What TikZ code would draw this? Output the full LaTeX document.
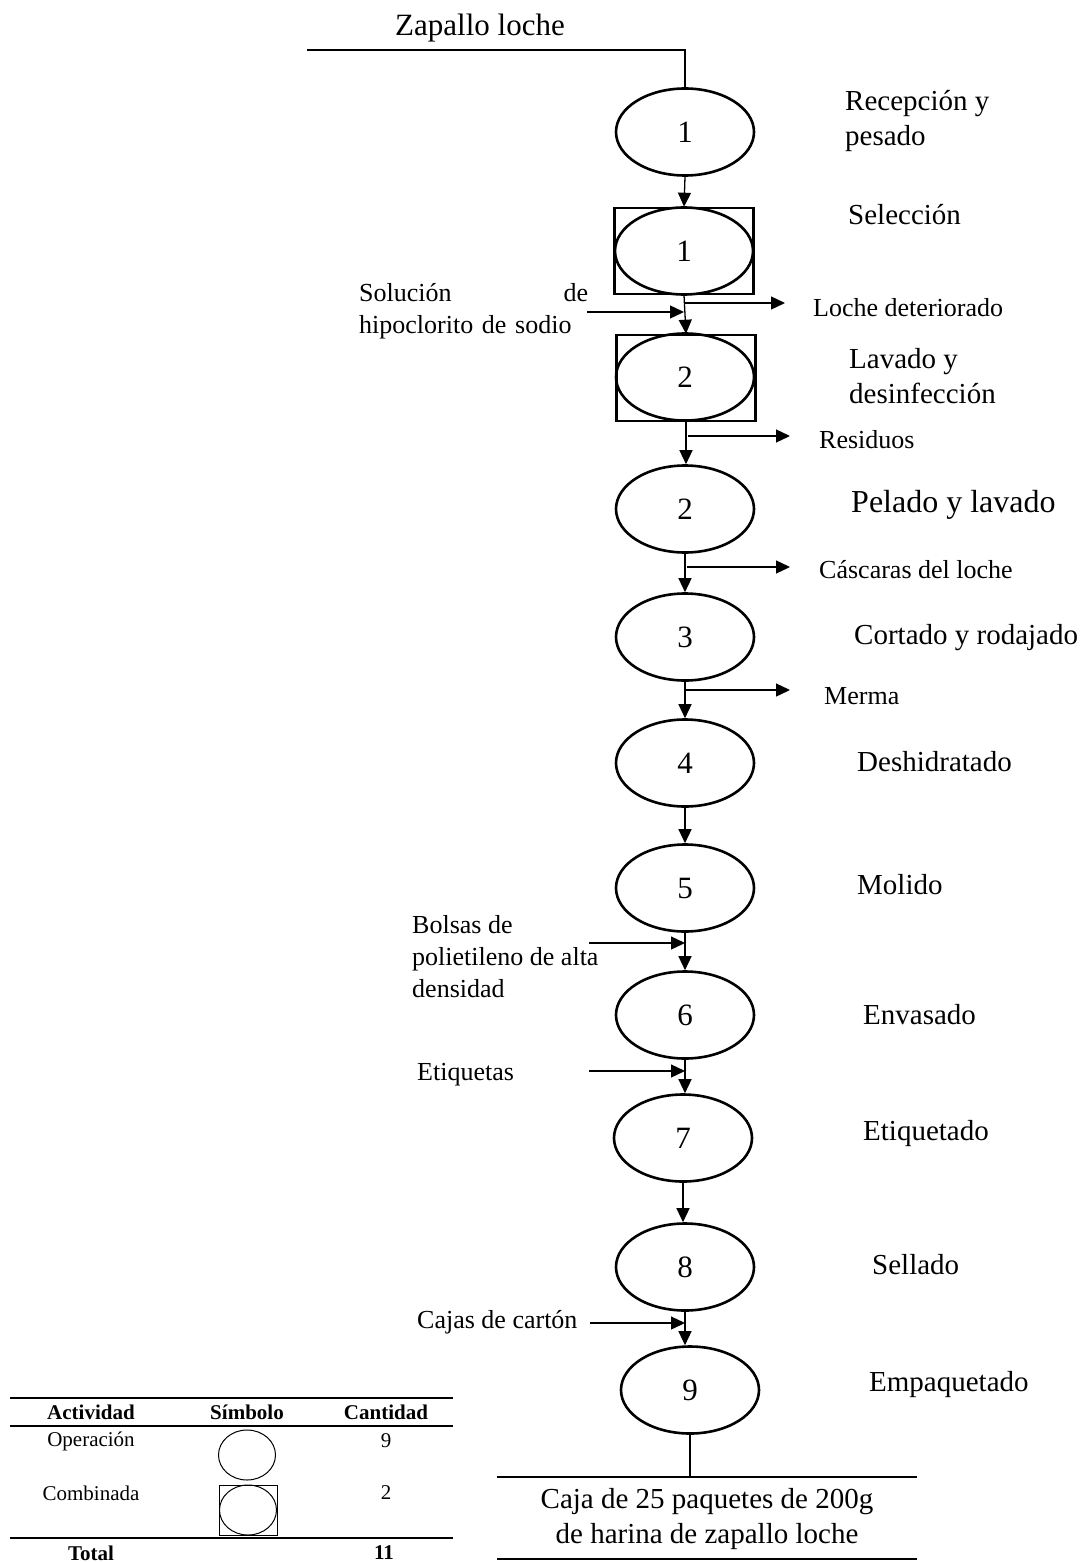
\documentclass[tikz,border=0pt]{standalone}
\usepackage{fontspec}
\setmainfont{Liberation Serif}
\usetikzlibrary{shapes.geometric,arrows.meta}
\begin{document}
\begin{tikzpicture}[x=1pt,y=-1pt,
  op/.style={draw,ellipse,line width=2.6pt,minimum width=138pt,minimum height=87pt,inner sep=0pt,font=\fontsize{31}{37}\selectfont},
  comb/.style={draw,rectangle,line width=2.6pt,minimum width=139pt,minimum height=86pt,inner sep=0pt},
  lbl/.style={anchor=west,align=left,inner sep=0pt,font=\fontsize{29}{35}\selectfont},
  sml/.style={anchor=west,align=left,inner sep=0pt,font=\fontsize{26}{32}\selectfont},
  flow/.style={-{Triangle[length=14pt,width=13pt]},line width=1.3pt},
  rule/.style={line width=1.6pt},
  tab/.style={font=\fontsize{21}{25}\selectfont,inner sep=0pt}]
\useasboundingbox (0,0) rectangle (1083,1562);
% raw material
\node[font=\fontsize{31}{37}\selectfont] (mp) at (480,28) {Zapallo loche};
\node[op] (e1) at (685,132) {1};
\draw[line width=1.3pt] (307,50) -| (e1.north);
% combined activities
\node[comb] (b1) at (684,251) {};
\node[op] (c1) at (684,251) {1};
\node[comb] (b2) at (686,378) {};
\node[op] (c2) at (685,377) {2};
% operations
\node[op] (e2) at (685,509) {2};
\node[op] (e3) at (685,637) {3};
\node[op] (e4) at (685,763) {4};
\node[op] (e5) at (685,888) {5};
\node[op] (e6) at (685,1015) {6};
\node[op] (e7) at (683,1138) {7};
\node[op] (e8) at (685,1267) {8};
\node[op] (e9) at (690,1390) {9};
% main flow
\draw[flow] (e1.south) -- (b1.north);
\draw[flow] (b1.south) -- (b2.north);
\draw[flow] (b2.south) -- (b2.south |- e2.north);
\draw[flow] (e2.south) -- (e3.north);
\draw[flow] (e3.south) -- (e4.north);
\draw[flow] (e4.south) -- (e5.north);
\draw[flow] (e5.south) -- (e6.north);
\draw[flow] (e6.south) -- (e6.south |- e7.north);
\draw[flow] (e7.south) -- (e7.south |- e8.north);
\draw[flow] (e8.south) -- (e8.south |- e9.north);
% step names
\node[lbl] (t1) at (845,121) {Recepción y\\pesado};
\node[lbl] (t2) at (848,215) {Selección};
\node[lbl] (t3) at (849,376) {Lavado y\\desinfección};
\node[lbl,font=\fontsize{32}{38}\selectfont] (t4) at (851,505) {Pelado y lavado};
\node[lbl] (t5) at (854,638) {Cortado y rodajado};
\node[lbl] (t6) at (857,762) {Deshidratado};
\node[lbl] (t7) at (857,885) {Molido};
\node[lbl] (t8) at (863,1015) {Envasado};
\node[lbl] (t9) at (863,1134) {Etiquetado};
\node[lbl] (t10) at (872,1265) {Sellado};
\node[lbl] (t11) at (869,1385) {Empaquetado};
% outputs
\coordinate (o1) at (785,303);
\coordinate (o2) at (790,436);
\coordinate (o3) at (790,567);
\coordinate (o4) at (790,690);
\draw[flow] (o1 -| b1.south) -- (o1);
\draw[flow] (o2 -| e2.north) ++(3,0) -- (o2);
\draw[flow] (o3 -| e2.south) ++(2,0) -- (o3);
\draw[flow] (o4 -| e3.south) -- (o4);
\node[sml] (s1) at (813,308) {Loche deteriorado};
\node[sml] (s2) at (819,440) {Residuos};
\node[sml] (s3) at (819,570) {Cáscaras del loche};
\node[sml] (s4) at (824,696) {Merma};
% inputs
\node[sml,text width=229pt] (i1) at (359,311) {Solución\hfill de\\hipoclorito de sodio};
\node[sml] (i2) at (412,957) {Bolsas de\\polietileno de alta\\densidad};
\node[sml] (i3) at (417,1075) {Etiquetas};
\node[sml] (i4) at (417,1322) {Cajas de cartón};
\coordinate (a1) at (587,312);
\coordinate (a2) at (589,943);
\coordinate (a3) at (589,1071);
\coordinate (a4) at (590,1323);
\draw[flow] (a1) -- (a1 -| b1.south);
\draw[flow] (a2) -- (a2 -| e5.south);
\draw[flow] (a3) -- (a3 -| e6.south);
\draw[flow] (a4) -- (a4 -| e8.south);
% final product
\node[font=\fontsize{29}{35}\selectfont,align=center,inner sep=0pt] (pf) at (707,1519) {Caja de 25 paquetes de 200g\\de harina de zapallo loche};
\draw[line width=1.3pt] (e9.south) -- (e9.south |- 0,1476);
\draw[line width=1.4pt] (497,1477) -- (917,1477);
\draw[line width=1.4pt] (497,1559) -- (917,1559);
% summary table
\draw[rule] (10,1398) -- (453,1398) (10,1426) -- (453,1426) (10,1538) -- (453,1538);
\node[tab,font=\fontsize{21}{25}\selectfont\bfseries] (h1) at (91,1412) {Actividad};
\node[tab,font=\fontsize{21}{25}\selectfont\bfseries] (h2) at (247,1412) {Símbolo};
\node[tab,font=\fontsize{21}{25}\selectfont\bfseries] (h3) at (386,1412) {Cantidad};
\node[tab] (r1) at (91,1441) {Operación};
\node[tab] (r2) at (91,1493) {Combinada};
\node[tab] (q1) at (386,1441) {9};
\node[tab] (q2) at (386,1493) {2};
\node[draw,ellipse,line width=1pt,minimum width=57pt,minimum height=50pt] (y1) at (247,1455) {};
\node[draw,rectangle,line width=1pt,minimum width=58pt,minimum height=50pt] (y2) at (248,1510) {};
\node[draw,ellipse,line width=1pt,minimum width=57pt,minimum height=50pt] (y3) at (248,1510) {};
\node[tab,font=\fontsize{21}{25}\selectfont\bfseries] (f1) at (91,1553) {Total};
\node[tab,font=\fontsize{21}{25}\selectfont\bfseries] (f2) at (384,1553) {11};
\end{tikzpicture}
\end{document}
